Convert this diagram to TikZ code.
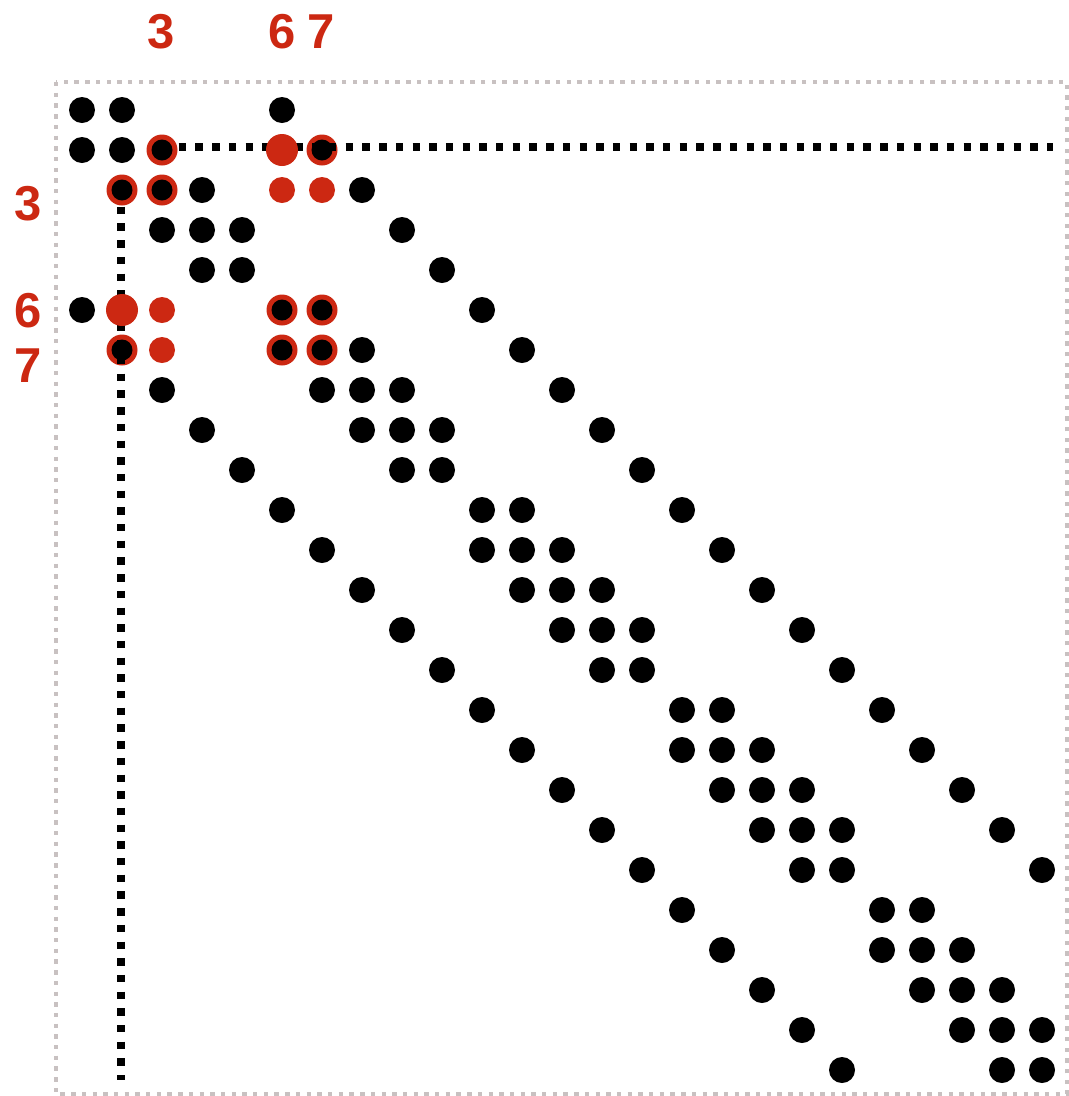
\documentclass[tikz,border=0pt]{standalone}
\usepackage{fontspec}
\setmainfont{Liberation Sans}
\definecolor{myred}{RGB}{204,40,18}
\definecolor{framegray}{RGB}{200,193,193}
\begin{document}
\begin{tikzpicture}[x=1pt,y=-1pt,
  bdot/.style={circle,fill=black,inner sep=0pt,minimum size=26pt},
  rbig/.style={circle,fill=myred,inner sep=0pt,minimum size=32pt},
  rsmall/.style={circle,fill=myred,inner sep=0pt,minimum size=26pt},
  ringout/.style={circle,fill=myred,inner sep=0pt,minimum size=31pt},
  ringin/.style={circle,fill=black,inner sep=0pt,minimum size=21pt},
  blackdots/.style={line width=7.4pt,dash pattern=on 7.4pt off 9.3pt},
  graydots/.style={draw=framegray,line width=4.4pt,dash pattern=on 4.4pt off 6.3pt},
  lab/.style={text=myred,font=\fontsize{49}{49}\selectfont\bfseries,anchor=base,inner sep=0pt}]
\useasboundingbox (0,0) rectangle (1069,1096);
% frame
\coordinate (f1) at (56,82);
\coordinate (f2) at (1067,1094);
\draw[graydots] (f1) rectangle (f2);
% red rings (outer part)
\foreach \r/\c in {1/2,2/1,2/2,1/6,5/5,5/6,6/1,6/5,6/6}{
  \node[ringout] (o\r-\c) at ({82+40*\c},{110+40*\r}) {};
}
% dotted lines
\coordinate (hs) at (162,147);
\coordinate (he) at (1053,147);
\coordinate (vs) at (121,190);
\coordinate (ve) at (121,1080);
\draw[blackdots] (hs) -- (he);
\draw[blackdots] (vs) -- (ve);
% ring inner black
\foreach \r/\c in {1/2,2/1,2/2,1/6,5/5,5/6,6/1,6/5,6/6}{
  \node[ringin] (i\r-\c) at ({82+40*\c},{110+40*\r}) {};
}
% big red
\foreach \r/\c in {1/5,5/1}{
  \node[rbig] (R\r-\c) at ({82+40*\c},{110+40*\r}) {};
}
% small red
\foreach \r/\c in {2/5,2/6,5/2,6/2}{
  \node[rsmall] (s\r-\c) at ({82+40*\c},{110+40*\r}) {};
}
% black dots
\foreach \r/\cols in {0/{0,1,5},1/{0,1},2/{3,7},3/{2,3,4,8},4/{3,4,9},5/{0,10},6/{7,11},
  7/{2,6,7,8,12},8/{3,7,8,9,13},9/{4,8,9,14},10/{5,10,11,15},11/{6,10,11,12,16},
  12/{7,11,12,13,17},13/{8,12,13,14,18},14/{9,13,14,19},15/{10,15,16,20},
  16/{11,15,16,17,21},17/{12,16,17,18,22},18/{13,17,18,19,23},19/{14,18,19,24},
  20/{15,20,21},21/{16,20,21,22},22/{17,21,22,23},23/{18,22,23,24},24/{19,23,24}}{
  \foreach \c in \cols {
    \node[bdot] (d\r-\c) at ({82+40*\c},{110+40*\r}) {};
  }
}
% labels
\node[lab] (t3) at (161,48) {3};
\node[lab] (t6) at (282,48) {6};
\node[lab] (t7) at (321,48) {7};
\node[lab] (l3) at (28,220) {3};
\node[lab] (l6) at (28,327) {6};
\node[lab] (l7) at (28,382) {7};
\end{tikzpicture}
\end{document}
